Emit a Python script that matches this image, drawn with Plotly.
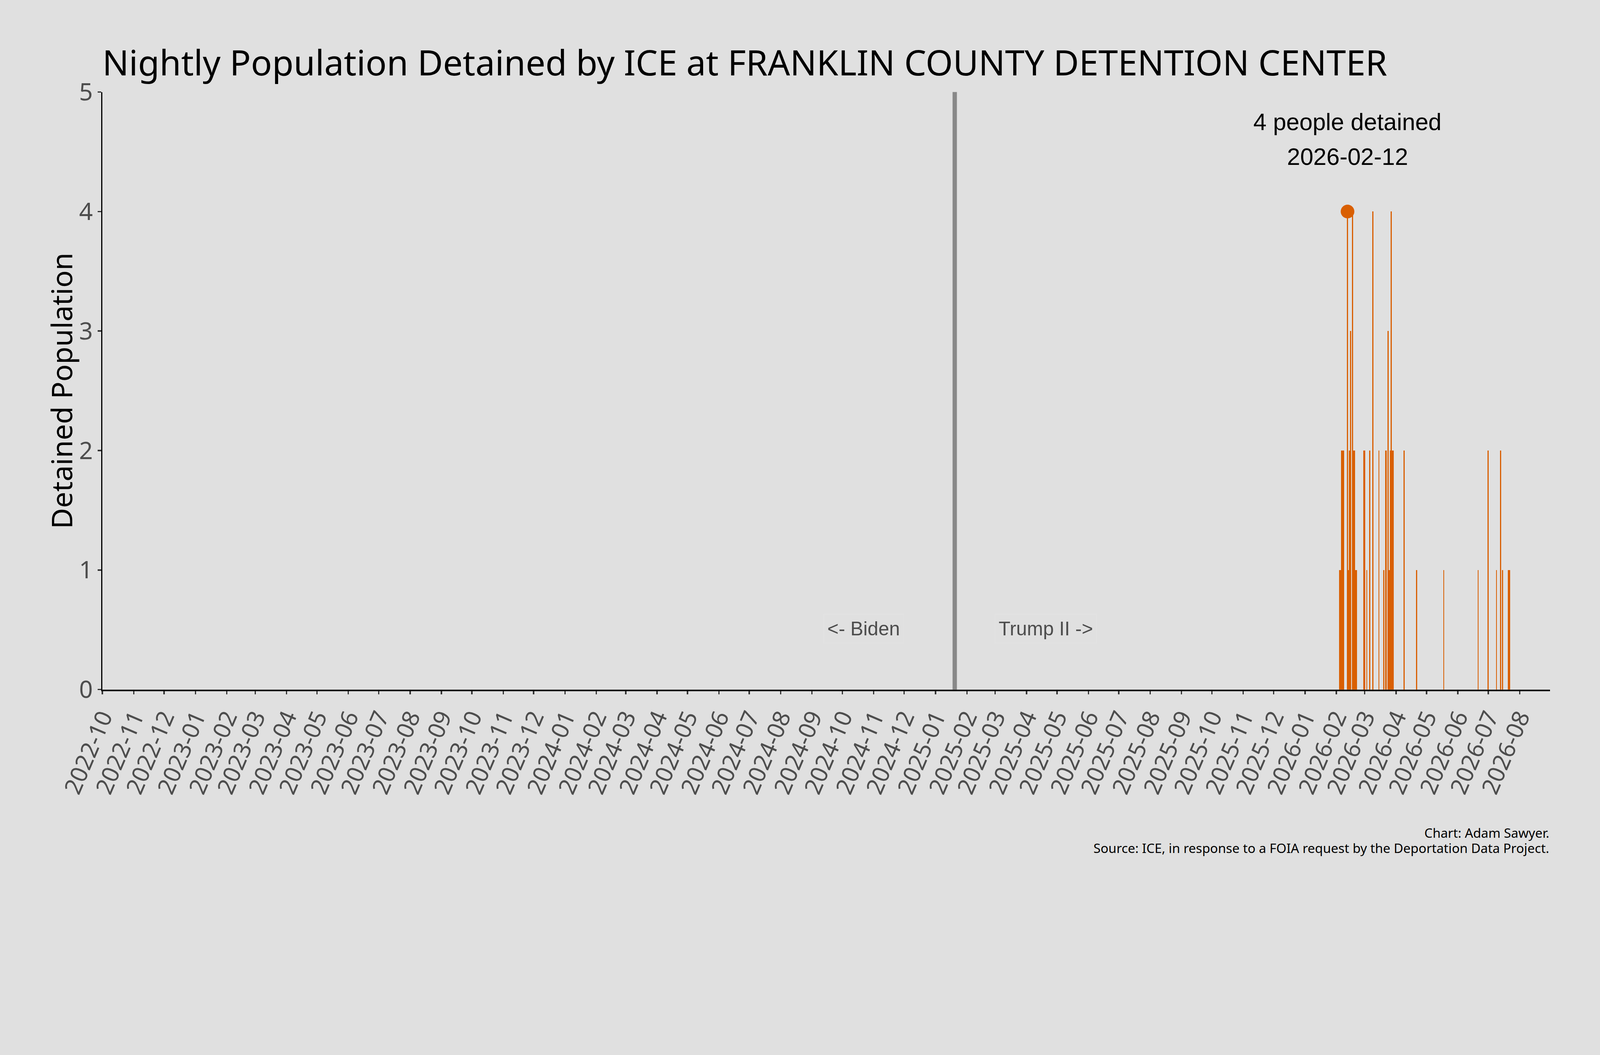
import plotly.graph_objects as go

# nightly counts, only the nights with somebody detained
dates = [
    "2026-02-04", "2026-02-05", "2026-02-06", "2026-02-07", "2026-02-08",
    "2026-02-12", "2026-02-13", "2026-02-14", "2026-02-15", "2026-02-17",
    "2026-02-18", "2026-02-19", "2026-02-20", "2026-02-21", "2026-02-28",
    "2026-03-01", "2026-03-03", "2026-03-06", "2026-03-09", "2026-03-15",
    "2026-03-20", "2026-03-22", "2026-03-24", "2026-03-25", "2026-03-26",
    "2026-03-27", "2026-03-28", "2026-03-29", "2026-04-09", "2026-04-21",
    "2026-05-18", "2026-06-21", "2026-07-01", "2026-07-09", "2026-07-13",
    "2026-07-15", "2026-07-21", "2026-07-22",
]
population = [
    1, 1, 2, 2, 2,
    4, 1, 2, 3, 4,
    2, 2, 1, 1, 2,
    2, 1, 2, 4, 2,
    1, 2, 3, 1, 2,
    4, 2, 2, 2, 1,
    1, 1, 2, 1, 2,
    1, 1, 1,
]

peak_date = "2026-02-12"
peak_value = 4
inauguration = "2025-01-20"
biden_x = "2024-10-22"
trump_x = "2025-04-20"
x_range = ["2022-10-01", "2026-08-31"]

W, H = 4800, 2700
orange = "#d95f02"
bg = "#e0e0e0"
sans = "Noto Sans"
arial = "Liberation Sans, Arial"

fig = go.Figure()

fig.add_trace(go.Bar(
    x=dates,
    y=population,
    width=86400000,
    marker=dict(color=orange, line=dict(width=0)),
    showlegend=False,
))

fig.add_trace(go.Scatter(
    x=[peak_date],
    y=[peak_value],
    mode="markers",
    marker=dict(color=orange, size=41),
    showlegend=False,
))

fig.add_shape(
    type="line", xref="x", yref="paper",
    x0=inauguration, x1=inauguration, y0=0, y1=1,
    line=dict(color="#888888", width=13),
)

# peak label
fig.add_annotation(x=peak_date, y=4.75, text="4 people detained", showarrow=False,
                   font=dict(family=arial, size=71, color="black"),
                   xanchor="center", yanchor="middle")
fig.add_annotation(x=peak_date, y=4.46, text=peak_date, showarrow=False,
                   font=dict(family=arial, size=71, color="black"),
                   xanchor="center", yanchor="middle")

# era labels
for txt, xx in [("<- Biden", biden_x), ("Trump II ->", trump_x)]:
    fig.add_annotation(x=xx, y=0.51, text=txt, showarrow=False,
                       font=dict(family=arial, size=58, color="#4d4d4d"),
                       xanchor="center", yanchor="middle",
                       bgcolor=bg, bordercolor="#e3e3e3", borderwidth=2, borderpad=10)

# y axis title
fig.add_annotation(xref="paper", yref="paper", x=-0.0285, y=0.5,
                   text="Detained Population", textangle=-90, showarrow=False,
                   font=dict(family=sans, size=86, color="black"),
                   xanchor="center", yanchor="middle")

# caption
fig.add_annotation(xref="paper", yref="paper", x=1, y=(2068 - 2497) / 1792.0,
                   text="Chart: Adam Sawyer.", showarrow=False,
                   font=dict(family=sans, size=39, color="black"),
                   xanchor="right", yanchor="middle")
fig.add_annotation(xref="paper", yref="paper", x=1, y=(2068 - 2542) / 1792.0,
                   text="Source: ICE, in response to a FOIA request by the Deportation Data Project.",
                   showarrow=False,
                   font=dict(family=sans, size=39, color="black"),
                   xanchor="right", yanchor="middle")

fig.update_layout(
    width=W, height=H,
    margin=dict(l=307, r=150, t=276, b=632),
    paper_bgcolor=bg, plot_bgcolor=bg,
    bargap=0,
    title=dict(
        text="Nightly Population Detained by ICE at FRANKLIN COUNTY DETENTION CENTER",
        font=dict(family=sans, size=105, color="black"),
        xref="paper", x=0, xanchor="left",
        yref="container", y=1 - 190 / H, yanchor="middle",
    ),
)

fig.update_xaxes(
    type="date", range=x_range,
    tick0="2022-10-01", dtick="M1", tickformat="%Y-%m", tickangle=-67,
    ticks="outside", ticklen=10, tickwidth=4, tickcolor="#333333",
    tickfont=dict(family=sans, size=70, color="#4d4d4d"),
    showline=True, linecolor="black", linewidth=5,
    showgrid=False, zeroline=False,
)
fig.update_yaxes(
    range=[0, 5], tick0=0, dtick=1,
    ticks="outside", ticklen=10, tickwidth=4, tickcolor="#333333",
    tickfont=dict(family=sans, size=72, color="#4d4d4d"),
    showline=True, linecolor="black", linewidth=4,
    showgrid=False, zeroline=False,
)

# the window can be narrower than 4800 css px, so shrink the figure to fit it
fit_js = (
    "document.documentElement.style.margin='0';"
    "document.body.style.margin='0';"
    "document.body.style.overflow='hidden';"
    "document.body.style.background='%s';"
    "var d=document.getElementById('{plot_id}');"
    "var s=Math.min(window.innerWidth/%d, window.innerHeight/%d);"
    "if (s < 1) { d.style.zoom = s; }" % (bg, W, H)
)

fig.write_html("out.html", post_script=fit_js, config={"displayModeBar": False})
